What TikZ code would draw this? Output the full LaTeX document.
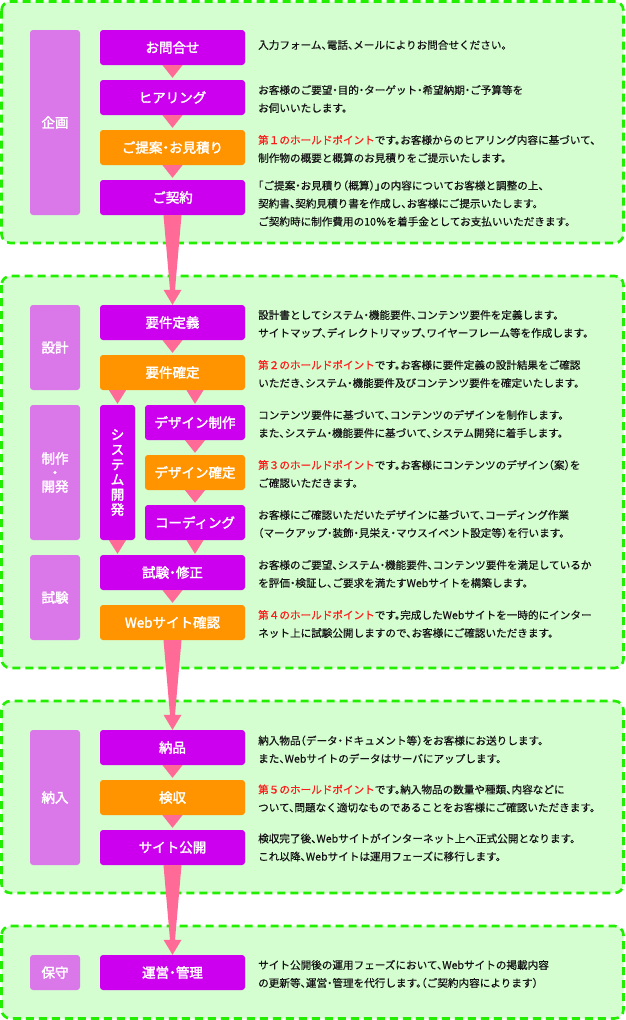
\documentclass[tikz,border=0pt]{standalone}
\usepackage{fontspec}
\setmainfont{Noto Sans CJK JP}[RawFeature=+halt, FakeBold=0.5]
\newfontfamily\jpbold[FakeBold=2.2, RawFeature=+halt]{Noto Sans CJK JP}
\usetikzlibrary{calc}
\definecolor{pur}{HTML}{CC00EE}
\definecolor{org}{HTML}{FF9400}
\definecolor{lav}{HTML}{DB78E9}
\definecolor{pinkar}{HTML}{FF6B96}
\definecolor{grn}{HTML}{22EE00}
\definecolor{bggrn}{HTML}{D4FDD0}
\definecolor{txt}{HTML}{141414}
\definecolor{hold}{HTML}{FF1A1A}
\tikzset{
  sect/.style={draw=grn, fill=bggrn, line width=2.6pt, dash pattern=on 8pt off 5pt, rounded corners=9pt},
  stepbox/.style={rectangle, rounded corners=3pt, fill=pur, text=white, minimum width=145pt, minimum height=35pt, inner sep=0pt, font=\jpbold\fontsize{13.5}{15}\selectfont},
  holdbox/.style={stepbox, fill=org},
  lab/.style={rectangle, rounded corners=3pt, fill=lav, text=white, minimum width=50pt, inner sep=0pt, align=center, font=\jpbold\fontsize{13.5}{15}\selectfont},
  desc/.style={anchor=west, inner sep=0pt, align=left, text=txt, font=\fontsize{10.6}{18}\selectfont},
  arr/.style={fill=pinkar},
}
\newcommand{\hp}[1]{{\color{hold}#1}}
\begin{document}
\begin{tikzpicture}[x=1pt,y=-1pt]
\useasboundingbox (0,0) rectangle (625,1020);
% sections
\draw[sect] (1.5,1.5) rectangle (623.5,243);
\draw[sect] (1.5,276) rectangle (623.5,668);
\draw[sect] (1.5,701) rectangle (623.5,893);
\draw[sect] (1.5,926) rectangle (623.5,1018.5);
% phase labels
\node[lab, minimum height=185pt] (L1) at (55,122.5) {企画};
\node[lab, minimum height=85pt] (L2) at (55,347.5) {設計};
\node[lab, minimum height=135pt] (L3) at (55,472.5) {制作\\[-1pt]・\\[-1pt]開発};
\node[lab, minimum height=85pt] (L4) at (55,597.5) {試験};
\node[lab, minimum height=135pt] (L5) at (55,797.5) {納入};
\node[lab, minimum height=35pt] (L6) at (55,972.5) {保守};
% steps
\node[stepbox] (q1) at (172.5,47.5) {お問合せ};
\node[stepbox] (q2) at (172.5,97.5) {ヒアリング};
\node[holdbox] (q3) at (172.5,147.5) {ご提案・お見積り};
\node[stepbox] (q4) at (172.5,197.5) {ご契約};
\node[stepbox] (d1) at (172.5,322.5) {要件定義};
\node[holdbox] (d2) at (172.5,372.5) {要件確定};
\node[stepbox, minimum width=35pt, minimum height=135pt, align=center, font=\jpbold\fontsize{13.5}{15}\selectfont] (sys) at (117.5,472.5) {シ\\ス\\テ\\ム\\開\\発};
\node[stepbox, minimum width=100pt] (p1) at (195,422.5) {デザイン制作};
\node[holdbox, minimum width=100pt] (p2) at (195,472.5) {デザイン確定};
\node[stepbox, minimum width=100pt] (p3) at (195,522.5) {コーディング};
\node[stepbox] (t1) at (172.5,572.5) {試験・修正};
\node[holdbox] (t2) at (172.5,622.5) {Webサイト確認};
\node[stepbox] (n1) at (172.5,747.5) {納品};
\node[holdbox] (n2) at (172.5,797.5) {検収};
\node[stepbox] (n3) at (172.5,847.5) {サイト公開};
\node[stepbox] (m1) at (172.5,972.5) {運営・管理};
% small triangles
\foreach \a/\b in {q1/q2,q2/q3,q3/q4,d1/d2,p1/p2,p2/p3,t1/t2,n1/n2,n2/n3}{
  \fill[arr] ($(\a.south)+(-10,0)$) -- ($(\a.south)+(10,0)$) -- ($(\b.north)+(0,-2)$) -- cycle;
}
\fill[arr] ($(d2.south -| sys.north)+(-8.5,0)$) -- ($(d2.south -| sys.north)+(8.5,0)$) -- ($(sys.north)+(0,-1)$) -- cycle;
\fill[arr] ($(d2.south -| p1.north)+(-8.5,0)$) -- ($(d2.south -| p1.north)+(8.5,0)$) -- ($(p1.north)+(0,-1)$) -- cycle;
\fill[arr] ($(sys.south)+(-8.5,0)$) -- ($(sys.south)+(8.5,0)$) -- ($(t1.north -| sys.south)+(0,-1)$) -- cycle;
\fill[arr] ($(p3.south)+(-8.5,0)$) -- ($(p3.south)+(8.5,0)$) -- ($(t1.north -| p3.south)+(0,-1)$) -- cycle;
% long arrows
\foreach \a/\b in {q4/d1,t2/n1,n3/m1}{
  \fill[arr] ($(\a.south)+(-9,0)$) -- ($(\a.south)+(9,0)$) -- ($(\b.north)+(2.5,-15)$) -- ($(\b.north)+(9,-15)$) -- (\b.north) -- ($(\b.north)+(-9,-15)$) -- ($(\b.north)+(-2.5,-15)$) -- cycle;
}
% descriptions
\node[desc] (tq1) at (258,45) {入力フォーム、電話、メールによりお問合せください。};
\node[desc] (tq2) at (258,99) {お客様のご要望・目的・ターゲット・希望納期・ご予算等を\\お伺いいたします。};
\node[desc] (tq3) at (258,149) {\hp{第１のホールドポイント}です。お客様からのヒアリング内容に基づいて、\\制作物の概要と概算のお見積りをご提示いたします。};
\node[desc] (tq4) at (258,203.5) {「ご提案・お見積り（概算）」の内容についてお客様と調整の上、\\契約書、契約見積り書を作成し、お客様にご提示いたします。\\ご契約時に制作費用の10％を着手金としてお支払いいただきます。};
\node[desc] (td1) at (258,324) {設計書としてシステム・機能要件、コンテンツ要件を定義します。\\サイトマップ、ディレクトリマップ、ワイヤーフレーム等を作成します。};
\node[desc] (td2) at (258,374) {\hp{第２のホールドポイント}です。お客様に要件定義の設計結果をご確認\\いただき、システム・機能要件及びコンテンツ要件を確定いたします。};
\node[desc] (tp1) at (258,424) {コンテンツ要件に基づいて、コンテンツのデザインを制作します。\\また、システム・機能要件に基づいて、システム開発に着手します。};
\node[desc] (tp2) at (258,474) {\hp{第３のホールドポイント}です。お客様にコンテンツのデザイン（案）を\\ご確認いただきます。};
\node[desc] (tp3) at (258,524) {お客様にご確認いただいたデザインに基づいて、コーディング作業\\（マークアップ・装飾・見栄え・マウスイベント設定等）を行います。};
\node[desc] (tt1) at (258,574) {お客様のご要望、システム・機能要件、コンテンツ要件を満足しているか\\を評価・検証し、ご要求を満たすWebサイトを構築します。};
\node[desc] (tt2) at (258,624) {\hp{第４のホールドポイント}です。完成したWebサイトを一時的にインター\\ネット上に試験公開しますので、お客様にご確認いただきます。};
\node[desc] (tn1) at (258,749.5) {納入物品（データ・ドキュメント等）をお客様にお送りします。\\また、Webサイトのデータはサーバにアップします。};
\node[desc] (tn2) at (258,798.5) {\hp{第５のホールドポイント}です。納入物品の数量や種類、内容などに\\ついて、問題なく適切なものであることをお客様にご確認いただきます。};
\node[desc] (tn3) at (258,847.5) {検収完了後、Webサイトがインターネット上へ正式公開となります。\\これ以降、Webサイトは運用フェーズに移行します。};
\node[desc] (tm1) at (258,974) {サイト公開後の運用フェーズにおいて、Webサイトの掲載内容\\の更新等、運営・管理を代行します。（ご契約内容によります）};
\end{tikzpicture}
\end{document}
